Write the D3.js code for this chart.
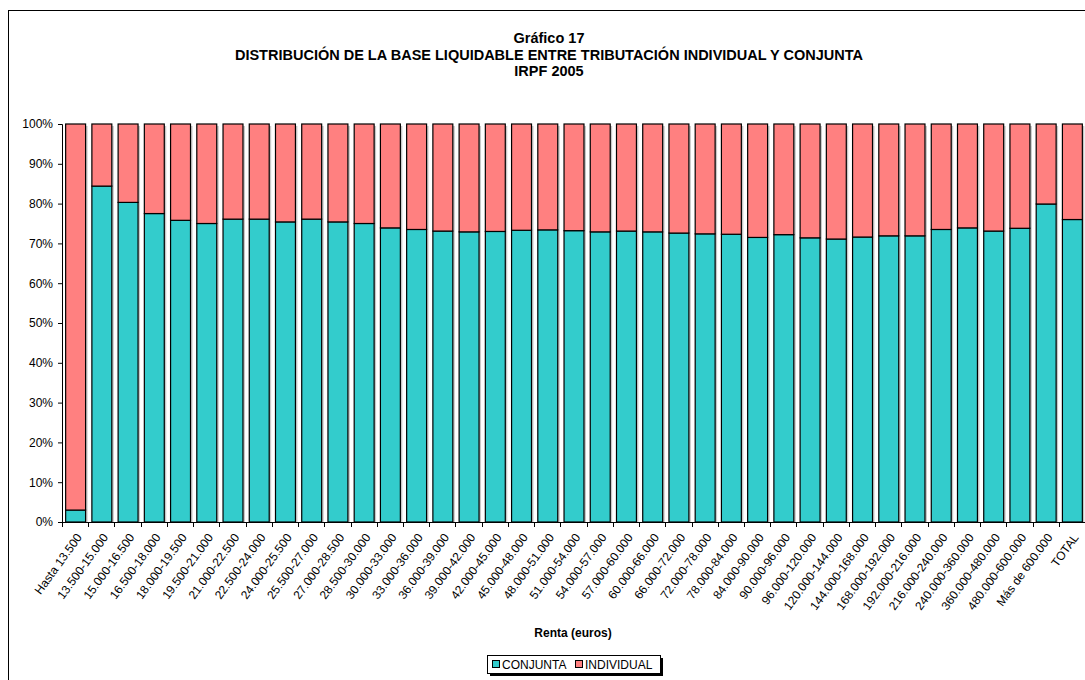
<!DOCTYPE html>
<html><head><meta charset="utf-8">
<script src="https://cdn.jsdelivr.net/npm/d3@7"></script>
<style>body{margin:0;background:#fff;} svg{display:block;font-family:"Liberation Sans",Arial,sans-serif;}</style>
</head><body><svg id="c" width="1085" height="680"></svg>
<script>
const categories = ["Hasta 13.500","13.500-15.000","15.000-16.500","16.500-18.000","18.000-19.500","19.500-21.000","21.000-22.500","22.500-24.000","24.000-25.500","25.500-27.000","27.000-28.500","28.500-30.000","30.000-33.000","33.000-36.000","36.000-39.000","39.000-42.000","42.000-45.000","45.000-48.000","48.000-51.000","51.000-54.000","54.000-57.000","57.000-60.000","60.000-66.000","66.000-72.000","72.000-78.000","78.000-84.000","84.000-90.000","90.000-96.000","96.000-120.000","120.000-144.000","144.000-168.000","168.000-192.000","192.000-216.000","216.000-240.000","240.000-360.000","360.000-480.000","480.000-600.000","Más de 600.000","TOTAL"];
const conjunta = [3.0,84.4,80.3,77.5,75.8,75.0,76.1,76.1,75.4,76.1,75.4,75.0,73.9,73.5,73.1,72.9,73.0,73.3,73.4,73.2,72.9,73.1,72.9,72.6,72.4,72.3,71.5,72.2,71.4,71.1,71.6,71.9,71.9,73.5,73.9,73.1,73.8,79.9,76.0];
const individual = conjunta.map(v => 100 - v);
const yTicks = [0,10,20,30,40,50,60,70,80,90,100];
const seriesNames = ["CONJUNTA","INDIVIDUAL"];
const seriesColors = ["#33CCCC","#FF8080"];

const svg = d3.select("#c");
// outer frame
svg.append("rect").attr("x",8.5).attr("y",10.5).attr("width",1100).attr("height",700)
  .attr("fill","none").attr("stroke","#000").attr("stroke-width",1);

// title
const tl = ["Gráfico 17","DISTRIBUCIÓN DE LA BASE LIQUIDABLE ENTRE TRIBUTACIÓN INDIVIDUAL Y CONJUNTA","IRPF 2005"];
tl.forEach((t,i)=>svg.append("text").attr("x",549).attr("y",43+i*16.5).attr("text-anchor","middle")
  .attr("font-size","14.5px").attr("font-weight","bold").text(t));

const x = d3.scaleBand().domain(categories).range([62,1085]).paddingInner(0.24).paddingOuter(0.12);
const y = d3.scaleLinear().domain([0,100]).range([522,124]);

const data = categories.map((c,i)=>({c, conj: conjunta[i], ind: individual[i]}));
const stack = d3.stack().keys(["conj","ind"])(data);

// shadows
svg.append("g").selectAll("rect").data(data).join("rect")
  .attr("x",d=>x(d.c)+2.5).attr("y",y(100)+2).attr("width",x.bandwidth())
  .attr("height",y(0)-y(100)-2).attr("fill","#c8c8c8");

stack.forEach((s,k)=>{
  svg.append("g").selectAll("rect").data(s).join("rect")
    .attr("x",d=>x(d.data.c)+0.5).attr("y",d=>y(d[1])).attr("width",x.bandwidth())
    .attr("height",d=>y(d[0])-y(d[1]))
    .attr("fill",seriesColors[k]).attr("stroke","#000").attr("stroke-width",1.2);
});

// y axis
const ya = svg.append("g").attr("transform","translate(62,0)")
  .call(d3.axisLeft(y).tickValues(yTicks).tickFormat(d=>d+"%").tickSize(4).tickPadding(5));
ya.select(".domain").attr("stroke","#000");
ya.selectAll("line").attr("stroke","#000");
ya.selectAll("text").attr("font-size","12px").attr("font-family","Liberation Sans, Arial, sans-serif").attr("fill","#000");

// x axis
const step = x.step();
const xa = svg.append("g").attr("transform","translate(0,522)");
xa.append("line").attr("x1",62).attr("x2",1085).attr("y1",0.5).attr("y2",0.5).attr("stroke","#000");
const bounds = d3.range(categories.length+1).map(i=>62 + i*step);
xa.selectAll("line.t").data(bounds).join("line").attr("class","t")
  .attr("x1",d=>Math.round(d)+0.5).attr("x2",d=>Math.round(d)+0.5).attr("y1",0).attr("y2",5).attr("stroke","#000");
xa.selectAll("text").data(categories).join("text")
  .attr("transform",d=>`translate(${x(d)+x.bandwidth()/2+4},13) rotate(-54)`)
  .attr("text-anchor","end").attr("dy","0.35em").attr("font-size","12px").text(d=>d);

svg.append("text").attr("x",573).attr("y",637).attr("text-anchor","middle")
  .attr("font-size","12px").attr("font-weight","bold").text("Renta (euros)");

// legend
const lg = svg.append("g").attr("transform","translate(487,655)");
lg.append("rect").attr("x",3).attr("y",3).attr("width",173).attr("height",18).attr("fill","#000");
lg.append("rect").attr("x",0.5).attr("y",0.5).attr("width",173).attr("height",18).attr("fill","#fff").attr("stroke","#000");
const lx = [5,88];
seriesNames.forEach((n,i)=>{
  lg.append("rect").attr("x",lx[i]+0.5).attr("y",5.5).attr("width",7).attr("height",7)
    .attr("fill",seriesColors[i]).attr("stroke","#000");
  lg.append("text").attr("x",lx[i]+10).attr("y",14).attr("font-size","12px").text(n);
});
</script></body></html>
